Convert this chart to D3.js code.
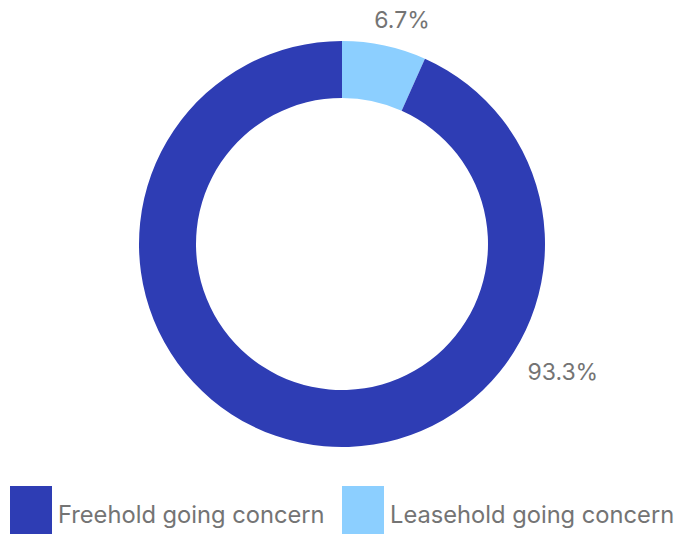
<!DOCTYPE html>
<html>
<head>
<meta charset="utf-8">
<script src="https://cdn.jsdelivr.net/npm/d3@7"></script>
<style>
  body { margin: 0; background: #fff; }
  text { font-family: Inter, "Noto Sans", sans-serif; fill: #747474; }
</style>
</head>
<body>
<div id="graph"></div>
<script>
// chart data
var categories = ["Leasehold going concern", "Freehold going concern"];
var values = [6.7, 93.3];
var labels = ["6.7%", "93.3%"];
var colors = ["#8ccfff", "#2e3db4"];
// legend order as shown under the chart
var legendOrder = ["Freehold going concern", "Leasehold going concern"];

var w = 675, h = 534;
var cx = 342, cy = 244;
var outerR = 203, innerR = 146;

var svg = d3.select("#graph")
    .append("svg")
    .attr("width", w)
    .attr("height", h);

var color = d3.scaleOrdinal().domain(categories).range(colors);

var pie = d3.pie()
    .sort(null)
    .value(function(d, i) { return values[i]; });

var arc = d3.arc()
    .innerRadius(innerR)
    .outerRadius(outerR);

var arcs = pie(categories);

var g = svg.append("g")
    .attr("transform", "translate(" + cx + "," + cy + ")");

g.selectAll("path")
    .data(arcs)
    .enter().append("path")
    .attr("d", arc)
    .attr("fill", function(d) { return color(d.data); });

// labels sit outside the ring (angle in degrees clockwise from top, distance from centre)
var labelPos = [
  { angle: 15, dist: 232 },
  { angle: 120, dist: 255 }
];

g.selectAll(".lbl")
    .data(arcs)
    .enter().append("text")
    .attr("class", "lbl")
    .attr("x", function(d, i) { return Math.sin(labelPos[i].angle * Math.PI / 180) * labelPos[i].dist; })
    .attr("y", function(d, i) { return -Math.cos(labelPos[i].angle * Math.PI / 180) * labelPos[i].dist; })
    .attr("text-anchor", "middle")
    .attr("dominant-baseline", "central")
    .attr("font-size", "23px")
    .text(function(d, i) { return labels[i]; });

// legend
var legendX = d3.scalePoint().domain(legendOrder).range([10, 342]);

var legend = svg.selectAll(".legend")
    .data(legendOrder)
    .enter().append("g")
    .attr("class", "legend")
    .attr("transform", function(d) { return "translate(" + legendX(d) + ",486)"; });

legend.append("rect")
    .attr("width", 42)
    .attr("height", 48)
    .attr("fill", function(d) { return color(d); });

legend.append("text")
    .attr("x", 48)
    .attr("y", 37)
    .attr("font-size", "23.7px")
    .text(function(d) { return d; });
</script>
</body>
</html>
